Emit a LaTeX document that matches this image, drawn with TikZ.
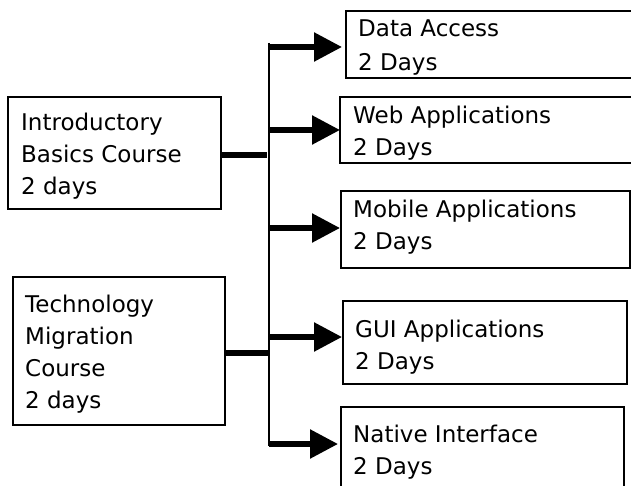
\documentclass[tikz,border=0pt]{standalone}
\usepackage{fontspec}
\setmainfont{DejaVu Sans}
\usetikzlibrary{arrows.meta}
\tikzset{
  box/.style={draw, line width=1.8pt, anchor=north west, inner sep=0pt, outer sep=0pt},
  label/.style={anchor=north west, inner sep=0pt, align=left, font=\fontsize{23}{32}\selectfont},
  feed/.style={line width=5.5pt},
  spine/.style={line width=2pt},
  arr/.style={line width=5.5pt, -{Triangle[length=28pt,width=28pt]}},
}
\begin{document}
\begin{tikzpicture}[x=1pt,y=-1pt]
\useasboundingbox (0,0) rectangle (631,486);
\clip (0,0) rectangle (631,486);
% boxes
\node[box, minimum width=213pt, minimum height=112pt] (intro) at (8,97) {};
\node[box, minimum width=212pt, minimum height=148pt] (tech) at (13,277) {};
\node[box, minimum width=314pt, minimum height=67pt] (da) at (346,11) {};
\node[box, minimum width=320pt, minimum height=66pt] (web) at (340,97) {};
\node[box, minimum width=289pt, minimum height=77pt] (mob) at (341,191) {};
\node[box, minimum width=284pt, minimum height=83pt] (gui) at (343,301) {};
\node[box, minimum width=283pt, minimum height=113pt] (nat) at (341,407) {};
% texts
\node[label] (tintro) at (21,113) {Introductory\\Basics Course\\2 days};
\node[label] (ttech) at (25,295) {Technology\\Migration\\Course\\2 days};
\node[label, font=\fontsize{23}{34}\selectfont] (tda) at (358,20) {Data Access\\2 Days};
\node[label] (tweb) at (353,106) {Web Applications\\2 Days};
\node[label] (tmob) at (353,200) {Mobile Applications\\2 Days};
\node[label] (tgui) at (355,320) {GUI Applications\\2 Days};
\node[label] (tnat) at (353,425) {Native Interface\\2 Days};
% spine
\coordinate (top) at (269,43);
\coordinate (bot) at (269,446);
\draw[spine] (top) -- (bot);
\coordinate (s1) at (269,47);
\coordinate (s2) at (269,130);
\coordinate (s3) at (269,228);
\coordinate (s4) at (269,337);
\coordinate (s5) at (269,444);
\coordinate (j1) at (267,155);
\coordinate (j2) at (269,353);
% feeders
\draw[feed] (intro.east |- j1) -- (j1);
\draw[feed] (tech.east |- j2) -- (j2);
% arrows
\draw[arr, shorten >=4pt] (s1) -- (s1 -| da.west);
\draw[arr] (s2) -- (s2 -| web.west);
\draw[arr, shorten >=1pt] (s3) -- (s3 -| mob.west);
\draw[arr, shorten >=1pt] (s4) -- (s4 -| gui.west);
\draw[arr, shorten >=3pt] (s5) -- (s5 -| nat.west);
\end{tikzpicture}
\end{document}
